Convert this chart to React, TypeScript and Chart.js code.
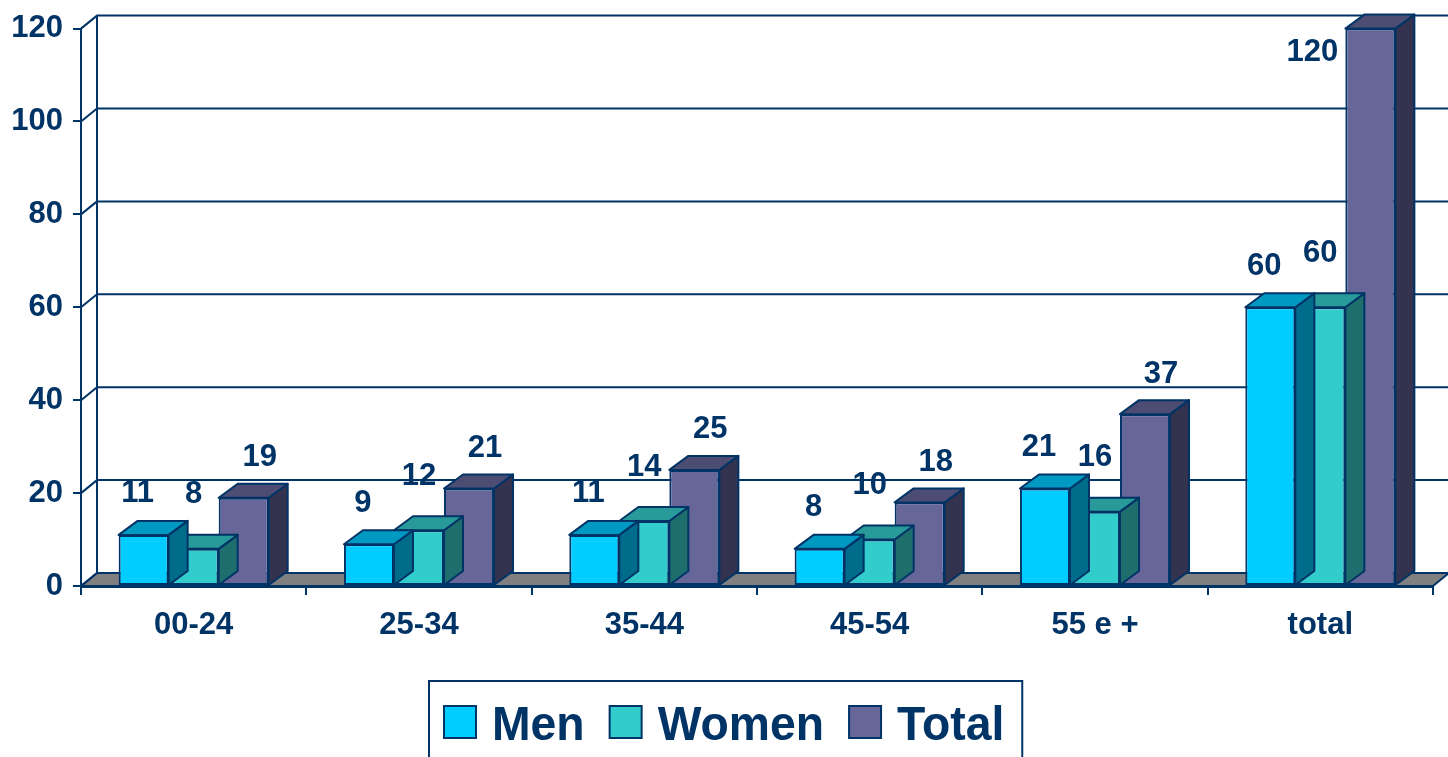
import React, { useEffect, useRef } from 'react';
import { Chart, registerables } from 'chart.js';

Chart.register(...registerables);

const categories = ['00-24', '25-34', '35-44', '45-54', '55 e +', 'total'];
const menValues = [11, 9, 11, 8, 21, 60];
const womenValues = [8, 12, 14, 10, 16, 60];
const totalValues = [19, 21, 25, 18, 37, 120];
const seriesNames = ['Men', 'Women', 'Total'];
const yMin = 0;
const yMax = 120;
const yStep = 20;

const NAVY = '#003366';
const FRONT = ['#00CCFF', '#33CCCC', '#666699'];
const TOPC = ['#0099C2', '#299A9A', '#4D4D73'];
const SIDEC = ['#006C8C', '#1F6E6E', '#33334F'];
const FONT = '"Liberation Sans", Arial, Helvetica, sans-serif';
const BAR_DX = 19;
const BAR_DY = 14;
const WALL_DX = 16;
const WALL_DY = 13;
// label placement relative to the bar's front-top centre, per series (style)
const LABEL_SHIFT = [
  { dx: -6, dy: -41 },
  { dx: 0, dy: -54 },
  { dx: 16, dy: -40 },
];

const wallPlugin = {
  id: 'walls3d',
  beforeDraw(chart: any) {
    const { ctx, chartArea, scales } = chart;
    const { left, right, top, bottom } = chartArea;
    const y = scales.y;
    ctx.save();
    ctx.beginPath();
    ctx.moveTo(left, bottom);
    ctx.lineTo(left + WALL_DX, bottom - WALL_DY);
    ctx.lineTo(right + WALL_DX, bottom - WALL_DY);
    ctx.lineTo(right, bottom);
    ctx.closePath();
    ctx.fillStyle = '#808080';
    ctx.fill();
    ctx.lineWidth = 2;
    ctx.strokeStyle = NAVY;
    ctx.lineJoin = 'round';
    ctx.stroke();
    y.ticks.forEach((t: any) => {
      const py = y.getPixelForValue(t.value);
      ctx.beginPath();
      ctx.moveTo(left, py);
      ctx.lineTo(left + WALL_DX, py - WALL_DY);
      ctx.lineTo(chart.width + 2, py - WALL_DY);
      ctx.stroke();
    });
    ctx.beginPath();
    ctx.moveTo(left + WALL_DX, top - WALL_DY);
    ctx.lineTo(left + WALL_DX, bottom - WALL_DY);
    ctx.stroke();
    ctx.restore();
  },
};

const barFacesPlugin = {
  id: 'barFaces3d',
  afterDatasetDraw(chart: any, args: any) {
    const { ctx } = chart;
    const i = args.index;
    const meta = args.meta;
    ctx.save();
    ctx.lineWidth = 2;
    ctx.strokeStyle = NAVY;
    ctx.lineJoin = 'round';
    meta.data.forEach((el: any) => {
      const { x, y, base, width } = el.getProps(['x', 'y', 'base', 'width'], true);
      const l = x - width / 2;
      const r = x + width / 2;
      ctx.beginPath();
      ctx.moveTo(r, y);
      ctx.lineTo(r + BAR_DX, y - BAR_DY);
      ctx.lineTo(r + BAR_DX, base - BAR_DY);
      ctx.lineTo(r, base);
      ctx.closePath();
      ctx.fillStyle = SIDEC[i];
      ctx.fill();
      ctx.stroke();
      ctx.beginPath();
      ctx.moveTo(l, y);
      ctx.lineTo(l + BAR_DX, y - BAR_DY);
      ctx.lineTo(r + BAR_DX, y - BAR_DY);
      ctx.lineTo(r, y);
      ctx.closePath();
      ctx.fillStyle = TOPC[i];
      ctx.fill();
      ctx.stroke();
    });
    ctx.restore();
  },
};

const labelPlugin = {
  id: 'valueLabels',
  afterDatasetsDraw(chart: any) {
    const { ctx } = chart;
    ctx.save();
    ctx.font = `bold 31px ${FONT}`;
    ctx.fillStyle = NAVY;
    ctx.textBaseline = 'middle';
    chart.data.datasets.forEach((ds: any, di: number) => {
      const meta = chart.getDatasetMeta(di);
      const shift = LABEL_SHIFT[di];
      meta.data.forEach((el: any, j: number) => {
        const { x, y, width } = el.getProps(['x', 'y', 'width'], true);
        const text = String(ds.data[j]);
        let lx = x + shift.dx;
        let ly = y + shift.dy;
        if (ly < 18) {
          ctx.textAlign = 'right';
          lx = x - width / 2 - 7;
          ly = y + 24;
        } else {
          ctx.textAlign = 'center';
        }
        ctx.fillText(text, lx, ly);
      });
    });
    ctx.restore();
  },
};

const legendPlugin = {
  id: 'boxLegend',
  afterDraw(chart: any) {
    const { ctx } = chart;
    const squeeze = 0.965;
    const box = 32;
    const gapBoxText = 16;
    const gapItems = 25;
    const padL = 15;
    const padR = 18;
    ctx.save();
    ctx.font = `bold 48px ${FONT}`;
    const widths = seriesNames.map((n) => ctx.measureText(n).width * squeeze);
    const total =
      padL + padR + widths.reduce((a, w) => a + box + gapBoxText + w, 0) + gapItems * (seriesNames.length - 1);
    const bx = Math.round(chart.width / 2 - total / 2) + 2;
    const by = 681;
    ctx.lineWidth = 2;
    ctx.strokeStyle = NAVY;
    ctx.strokeRect(bx, by, total, 120);
    let cx = bx + padL;
    seriesNames.forEach((n, i) => {
      ctx.fillStyle = FRONT[i];
      ctx.fillRect(cx, 706, box, box);
      ctx.strokeRect(cx, 706, box, box);
      cx += box + gapBoxText;
      ctx.save();
      ctx.translate(cx, 740);
      ctx.scale(squeeze, 1);
      ctx.fillStyle = NAVY;
      ctx.textAlign = 'left';
      ctx.textBaseline = 'alphabetic';
      ctx.fillText(n, 0, 0);
      ctx.restore();
      cx += widths[i] + gapItems;
    });
    ctx.restore();
  },
};

export default function App() {
  const canvasRef = useRef<HTMLCanvasElement | null>(null);

  useEffect(() => {
    if (!canvasRef.current) return;
    const seriesValues = [menValues, womenValues, totalValues];
    const chart = new Chart(canvasRef.current, {
      type: 'bar',
      data: {
        labels: categories,
        datasets: seriesNames.map((name, i) => ({
          label: name,
          data: seriesValues[i],
          backgroundColor: FRONT[i],
          borderColor: NAVY,
          borderWidth: 2,
          borderSkipped: false,
          categoryPercentage: 0.666,
          barPercentage: 1,
          clip: false as any,
        })),
      },
      options: {
        responsive: false,
        animation: false,
        devicePixelRatio: 1,
        layout: { padding: { top: 23, right: 15, left: 0, bottom: 0 } },
        plugins: {
          legend: { display: false },
          tooltip: { enabled: false },
        },
        scales: {
          x: {
            offset: true,
            grid: {
              display: true,
              offset: true,
              drawOnChartArea: false,
              drawTicks: true,
              tickLength: 9,
              color: NAVY,
              lineWidth: 2,
            },
            border: { display: true, color: NAVY, width: 3 },
            ticks: {
              color: NAVY,
              font: { family: FONT, size: 31, weight: 'bold' },
              padding: 12,
              maxRotation: 0,
            },
            afterFit: (s: any) => {
              s.height = 171;
            },
          },
          y: {
            min: yMin,
            max: yMax,
            grid: {
              display: true,
              drawOnChartArea: false,
              drawTicks: true,
              tickLength: 8,
              color: NAVY,
              lineWidth: 2,
            },
            border: { display: true, color: NAVY, width: 2 },
            ticks: {
              stepSize: yStep,
              color: NAVY,
              font: { family: FONT, size: 31, weight: 'bold' },
              padding: 10,
            },
            afterFit: (s: any) => {
              s.width = 81;
            },
          },
        },
      },
      plugins: [wallPlugin, barFacesPlugin, labelPlugin, legendPlugin],
    });
    return () => chart.destroy();
  }, []);

  return (
    <div style={{ position: 'absolute', left: 0, top: 0, width: 1448, height: 757, background: '#fff' }}>
      <canvas ref={canvasRef} width={1448} height={757} style={{ display: 'block' }} />
    </div>
  );
}
